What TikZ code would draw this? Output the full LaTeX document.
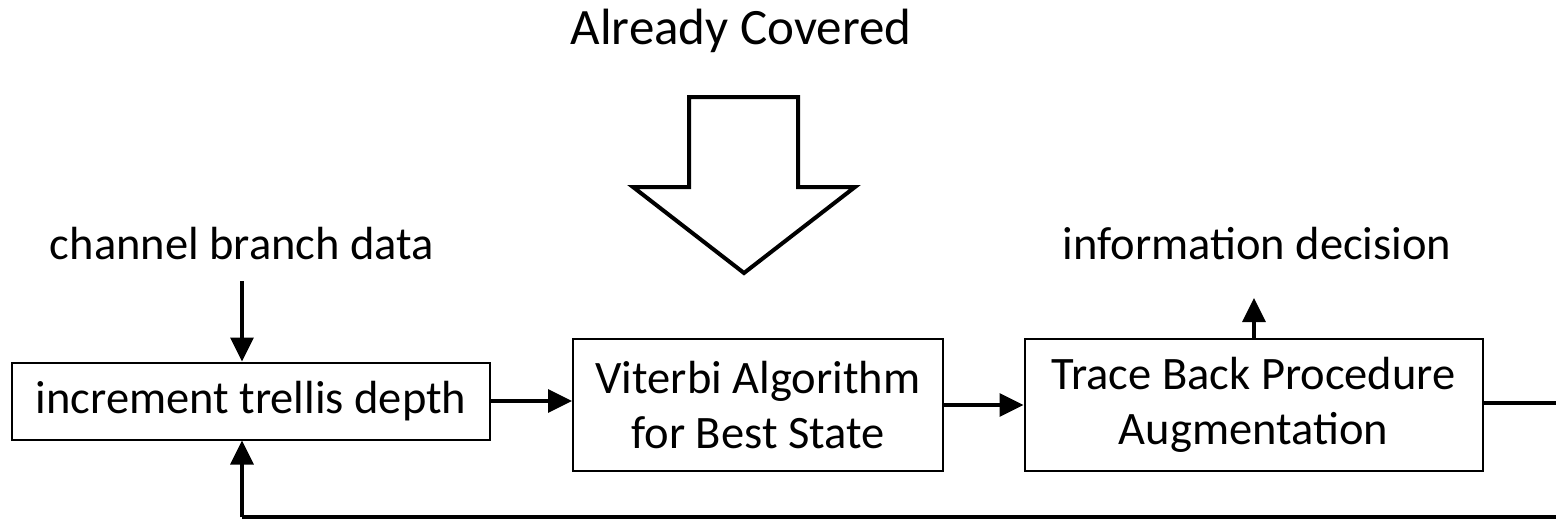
\documentclass[tikz,border=0pt]{standalone}
\usepackage{fontspec}
\setmainfont{Carlito}
\usetikzlibrary{arrows.meta}
\tikzset{
  blk/.style={draw, line width=2pt, inner sep=0pt, align=center,
    font=\fontsize{46.5}{55}\selectfont},
  lbl/.style={inner sep=0pt, font=\fontsize{46.5}{55}\selectfont},
  arr/.style={line width=3.4pt, -{Triangle[length=24pt,width=23pt]}},
  wire/.style={line width=3.4pt},
  bigarrow/.style={draw, line width=4pt, fill=white, line join=miter}
}
\begin{document}
\begin{tikzpicture}[x=1pt, y=-1pt]
  \useasboundingbox (0,0) rectangle (1556,519);

  % processing blocks
  \node[blk, minimum width=478pt, minimum height=77pt] (inc) at (251,401) {increment trellis depth};
  \node[blk, minimum width=370pt, minimum height=132pt] (vit) at (758,405) {\raisebox{-3pt}{Viterbi Algorithm}\\\raisebox{-3pt}{for Best State}};
  \node[blk, minimum width=458pt, minimum height=132pt] (tb) at (1253.5,405) {\raisebox{-3pt}{Trace Back Procedure}\\\raisebox{-3pt}{Augmentation}};

  % labels
  \node[lbl, font=\fontsize{51}{60}\selectfont] (cov) at (741,31) {Already Covered};
  \node[lbl] (chan) at (242,244) {channel branch data};
  \node[lbl] (dec) at (1257,244) {information decision};

  % input data into the trellis block
  \coordinate (chanout) at (242,281);
  \draw[arr] (chanout) -- (inc.north -| chanout);

  % decision output
  \coordinate (decin) at (1254,298);
  \draw[arr] (tb.north -| decin) -- (decin);

  % forward chain
  \draw[arr] (inc.east) -- (inc.east -| vit.west);
  \draw[arr] (vit.east) -- (tb.west);

  % feedback loop back to the trellis block
  \coordinate (fbr) at (1600,403);
  \coordinate (fbb) at (1600,517);
  \draw[wire] (tb.east |- fbr) -- (fbr) -- (fbb) -- (fbb -| chanout);
  \draw[arr] (242,517) -- (inc.south -| chanout);

  % large hollow arrow
  \draw[bigarrow] (689,97) -- (798,97) -- (798,187) -- (855,187)
    -- (744,273) -- (633,187) -- (689,187) -- cycle;
\end{tikzpicture}
\end{document}
